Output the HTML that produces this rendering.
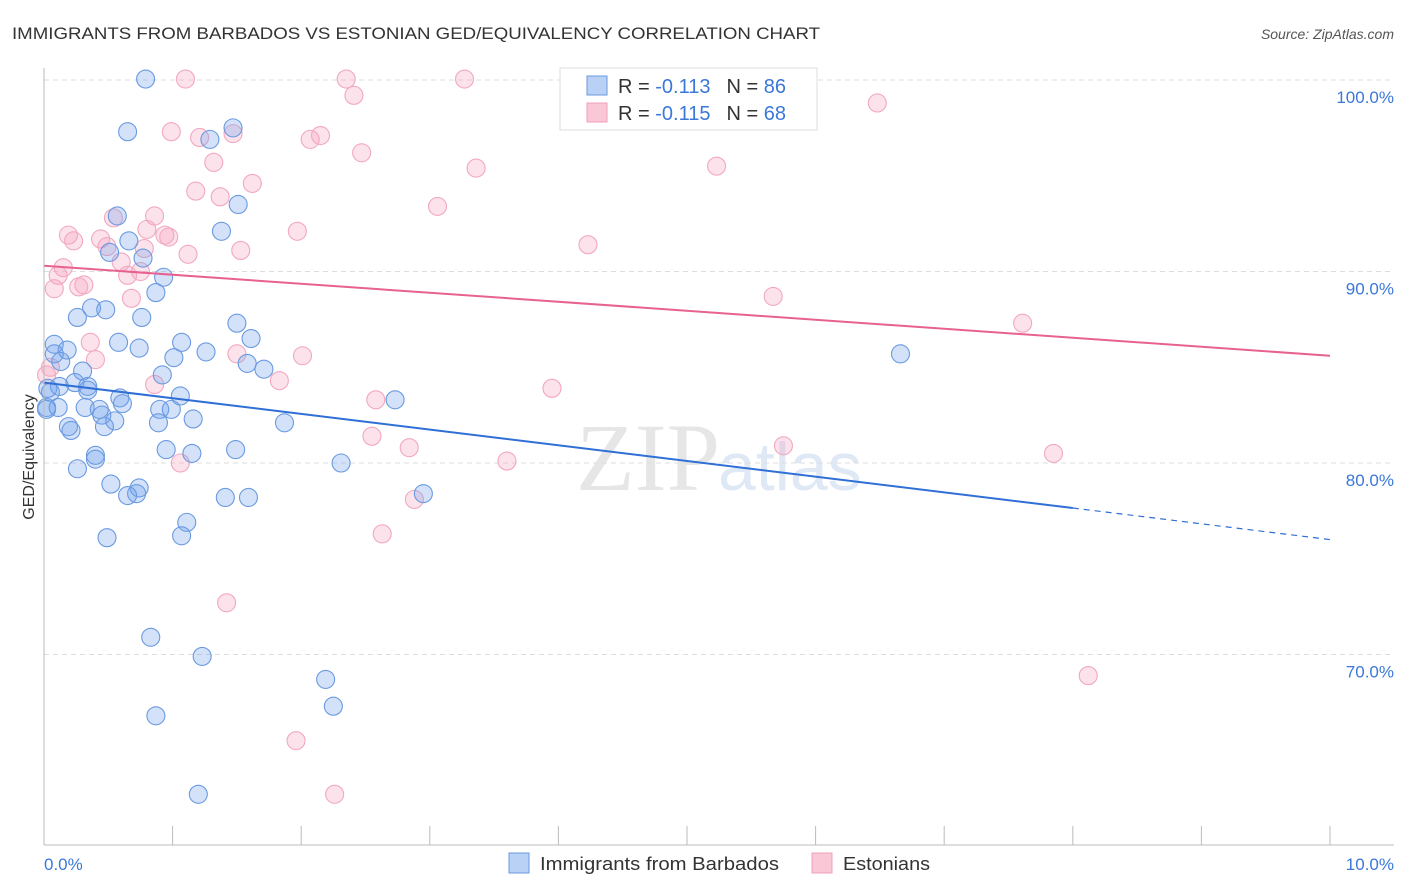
<!DOCTYPE html>
<html><head><meta charset="utf-8"><style>
body{margin:0;background:#fff;font-family:"Liberation Sans",sans-serif;}
svg{display:block}
</style></head><body>
<svg id="chart" width="1406" height="892">
<text x="12" y="39" font-size="17" fill="#333" textLength="808" lengthAdjust="spacingAndGlyphs">IMMIGRANTS FROM BARBADOS VS ESTONIAN GED/EQUIVALENCY CORRELATION CHART</text>
<text x="1394" y="39" font-size="14" fill="#555" text-anchor="end" font-style="italic">Source: ZipAtlas.com</text>
<text x="720" y="490" font-size="96" fill="#e6e6e6" text-anchor="end" font-family="Liberation Serif">ZIP</text>
<text x="718" y="490" font-size="68" fill="#dfe8f5">atlas</text>
<g id="grid"></g>
<g id="pts"></g>
<g id="trend"></g>
<line x1="44" y1="68" x2="44" y2="845" stroke="#bbb"/>
<line x1="44" y1="845" x2="1394" y2="845" stroke="#bbb"/>
<text transform="translate(34,457) rotate(-90)" font-size="16" fill="#333" text-anchor="middle">GED/Equivalency</text>
<text x="44" y="870" font-size="17" fill="#3b78d8">0.0%</text>
<text x="1394" y="870" font-size="17" fill="#3b78d8" text-anchor="end">10.0%</text>
<g>
<rect x="560" y="68" width="257" height="62" fill="#fff" stroke="#ddd"/>
<rect x="587" y="76" width="20" height="19" fill="#b8d1f5" stroke="#6a9ae0"/>
<rect x="587" y="103" width="20" height="19" fill="#f9c7d6" stroke="#f0a0b8"/>
<text x="618" y="93" font-size="20" fill="#333">R = <tspan fill="#3b78d8">-0.113</tspan><tspan dx="16">N = </tspan><tspan fill="#3b78d8">86</tspan></text>
<text x="618" y="120" font-size="20" fill="#333">R = <tspan fill="#3b78d8">-0.115</tspan><tspan dx="16">N = </tspan><tspan fill="#3b78d8">68</tspan></text>
</g>
<g>
<rect x="509" y="853" width="20" height="20" fill="#b8d1f5" stroke="#6a9ae0"/>
<text x="540" y="870" font-size="18" fill="#333" textLength="239" lengthAdjust="spacingAndGlyphs">Immigrants from Barbados</text>
<rect x="812" y="853" width="20" height="20" fill="#f9c7d6" stroke="#f0a0b8"/>
<text x="843" y="870" font-size="18" fill="#333" textLength="87" lengthAdjust="spacingAndGlyphs">Estonians</text>
</g>
</svg>
<script>
const yTicks=[100,90,80,70];
const yTickLabels=["100.0%","90.0%","80.0%","70.0%"];
const xTicks=[0,1,2,3,4,5,6,7,8,9,10];
const blueX=[0.79,0.65,1.47,1.29,1.51,0.57,1.38,0.66,0.51,0.77,0.93,0.87,0.37,0.48,0.26,0.76,1.50,1.61,0.58,1.07,0.74,0.08,0.18,0.08,1.26,1.01,6.66,0.13,1.58,1.71,0.30,0.92,0.03,0.24,0.34,0.12,0.34,1.06,0.59,0.61,2.73,0.02,0.11,0.32,0.43,0.90,0.99,0.45,0.55,1.16,1.87,0.89,0.19,0.21,0.47,0.95,1.49,0.40,1.15,0.40,2.31,0.26,0.52,0.74,0.65,0.72,1.41,1.59,2.95,1.11,1.07,0.49,0.83,1.23,2.19,2.25,0.87,1.20,0.02,0.05];
const blueY=[100.05,97.3,97.5,96.9,93.5,92.9,92.1,91.6,91.0,90.7,89.7,88.9,88.1,88.0,87.6,87.6,87.3,86.5,86.3,86.3,86.0,86.2,85.9,85.7,85.8,85.5,85.7,85.3,85.2,84.9,84.8,84.6,83.9,84.2,84.0,84.0,83.8,83.5,83.4,83.1,83.3,82.9,82.9,82.9,82.8,82.8,82.8,82.5,82.2,82.3,82.1,82.1,81.9,81.7,81.9,80.7,80.7,80.4,80.5,80.2,80.0,79.7,78.9,78.7,78.3,78.4,78.2,78.2,78.4,76.9,76.2,76.1,70.9,69.9,68.7,67.3,66.8,62.7,82.8,83.7];
const pinkX=[1.10,2.35,3.27,4.79,5.94,2.41,4.10,6.48,0.99,1.21,1.47,2.07,2.15,2.47,1.32,3.36,5.23,1.62,1.18,1.37,3.06,0.86,0.54,0.80,0.19,0.23,0.94,0.97,1.97,0.44,0.49,0.78,1.53,4.23,1.12,0.60,0.15,0.75,0.65,0.11,0.31,0.27,0.08,0.68,5.67,7.61,0.36,1.50,2.01,0.40,0.05,1.83,0.86,3.95,2.58,2.55,2.84,5.75,7.85,3.60,1.06,2.88,2.63,1.42,8.12,1.96,2.26,0.02];
const pinkY=[100.05,100.05,100.05,100.05,100.05,99.2,99.4,98.8,97.3,97.0,97.2,96.9,97.1,96.2,95.7,95.4,95.5,94.6,94.2,93.9,93.4,92.9,92.8,92.2,91.9,91.6,91.9,91.8,92.1,91.7,91.3,91.2,91.1,91.4,90.9,90.5,90.2,90.0,89.8,89.8,89.3,89.2,89.1,88.6,88.7,87.3,86.3,85.7,85.6,85.4,85.0,84.3,84.1,83.9,83.3,81.4,80.8,80.9,80.5,80.1,80.0,78.1,76.3,72.7,68.9,65.5,62.7,84.6];
const blueTrend=[[0,84.2],[8.0,77.65],[10,76.0]];
const pinkTrend=[[0,90.3],[10,85.6]];
const NS="http://www.w3.org/2000/svg";
const sx=v=>44+v*128.6;
const sy=v=>80+(100-v)*19.15;
function mk(tag,attrs,parent){const e=document.createElementNS(NS,tag);for(const k in attrs)e.setAttribute(k,attrs[k]);parent.appendChild(e);return e;}
const grid=document.getElementById('grid');
yTicks.forEach((t,i)=>{
 const l=mk('line',{x1:44,x2:1394,y1:sy(t),y2:sy(t),stroke:'#ddd','stroke-dasharray':'5,4'},grid);
 
 
 const tx=mk('text',{x:1394,y:sy(t)+23,'font-size':17,fill:'#3b78d8','text-anchor':'end'},grid);
 tx.textContent=yTickLabels[i];
 
 
});
xTicks.forEach(t=>{
 const l=mk('line',{x1:sx(t),x2:sx(t),y1:826,y2:845,stroke:'#bbb'},grid);
 
 
});
const pts=document.getElementById('pts');
pinkX.forEach((x,i)=>{
 const c=mk('circle',{cx:sx(x),cy:sy(pinkY[i]),r:9,fill:'rgba(244,160,188,0.3)',stroke:'#f2a8c0','stroke-width':1.1},pts);
 
 
});
blueX.forEach((x,i)=>{
 const c=mk('circle',{cx:sx(x),cy:sy(blueY[i]),r:9,fill:'rgba(110,160,235,0.3)',stroke:'#6a9ae0','stroke-width':1.1},pts);
 
 
});
const tr=document.getElementById('trend');
const pl=mk('line',{x1:sx(pinkTrend[0][0]),y1:sy(pinkTrend[0][1]),x2:sx(pinkTrend[1][0]),y2:sy(pinkTrend[1][1]),stroke:'#e8628f','stroke-width':2},tr);


const bl=mk('line',{x1:sx(blueTrend[0][0]),y1:sy(blueTrend[0][1]),x2:sx(blueTrend[1][0]),y2:sy(blueTrend[1][1]),stroke:'#2f6fd6','stroke-width':2},tr);


const bd=mk('line',{x1:sx(blueTrend[1][0]),y1:sy(blueTrend[1][1]),x2:sx(blueTrend[2][0]),y2:sy(blueTrend[2][1]),stroke:'#2f6fd6','stroke-width':1.2,'stroke-dasharray':'6,5'},tr);


</script>
</body></html>
